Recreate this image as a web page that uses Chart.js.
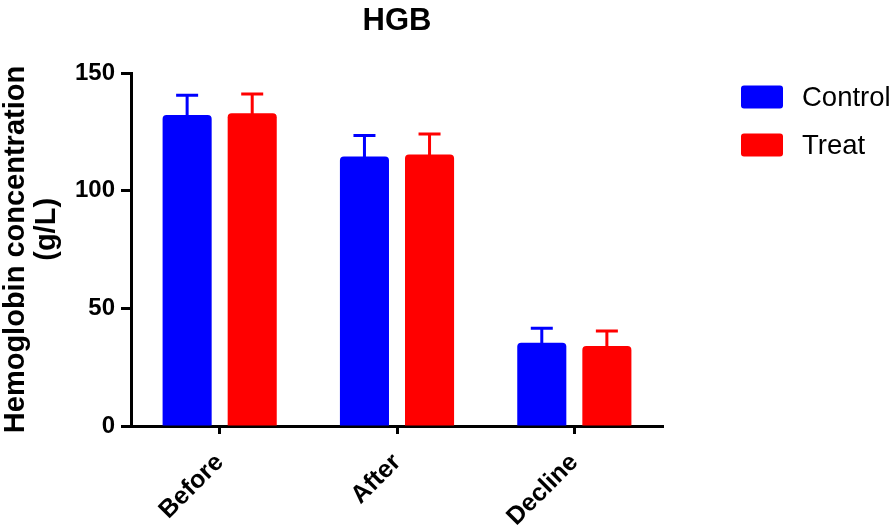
<!DOCTYPE html>
<html>
<head>
<meta charset="utf-8">
<script src="https://cdn.jsdelivr.net/npm/chart.js@4/dist/chart.umd.min.js"></script>
<style>
  html, body { margin: 0; padding: 0; background: #fff; }
  #wrap { width: 894px; height: 526px; }
</style>
</head>
<body>
<div id="wrap"><canvas id="c" width="894" height="526"></canvas></div>
<script>
const categories = ['Before', 'After', 'Decline'];
const controlMeans = [132.2, 114.5, 35.4];
const controlErr = [8.3, 8.9, 6.1];
const treatMeans = [132.9, 115.4, 34.0];
const treatErr = [8.2, 8.7, 6.4];
const yTicks = [0, 50, 100, 150];

const FONT = 'Arial, "Liberation Sans", Helvetica, sans-serif';

const errorBarPlugin = {
  id: 'errorBars',
  afterDatasetsDraw(chart) {
    const ctx = chart.ctx;
    const yScale = chart.scales.y;
    chart.data.datasets.forEach((ds, di) => {
      const meta = chart.getDatasetMeta(di);
      meta.data.forEach((bar, i) => {
        const top = yScale.getPixelForValue(ds.data[i] + ds.errors[i]);
        const base = yScale.getPixelForValue(ds.data[i]);
        ctx.save();
        ctx.strokeStyle = ds.backgroundColor;
        ctx.lineWidth = 3;
        ctx.beginPath();
        ctx.moveTo(bar.x, base + 1);
        ctx.lineTo(bar.x, top);
        ctx.moveTo(bar.x - 11, top);
        ctx.lineTo(bar.x + 11, top);
        ctx.stroke();
        ctx.restore();
      });
    });
  }
};

const legendPlugin = {
  id: 'sideLegend',
  afterDraw(chart) {
    const ctx = chart.ctx;
    chart.data.datasets.forEach((ds, i) => {
      const cy = 97 + i * 48;
      ctx.save();
      ctx.fillStyle = ds.backgroundColor;
      ctx.beginPath();
      ctx.roundRect(741, cy - 11.5, 42, 23, 3);
      ctx.fill();
      ctx.fillStyle = '#000';
      ctx.font = '27.5px ' + FONT;
      ctx.textBaseline = 'middle';
      ctx.textAlign = 'left';
      ctx.fillText(ds.label, 802, cy + 1);
      ctx.restore();
    });
  }
};

new Chart(document.getElementById('c'), {
  type: 'bar',
  data: {
    labels: categories,
    datasets: [
      { label: 'Control', data: controlMeans, errors: controlErr,
        backgroundColor: '#0000ff', borderWidth: 0,
        borderRadius: { topLeft: 4, topRight: 4 }, borderSkipped: 'start' },
      { label: 'Treat', data: treatMeans, errors: treatErr,
        backgroundColor: '#ff0000', borderWidth: 0,
        borderRadius: { topLeft: 4, topRight: 4 }, borderSkipped: 'start' }
    ]
  },
  options: {
    responsive: false,
    animation: false,
    devicePixelRatio: 1,
    categoryPercentage: 0.734,
    barPercentage: 0.754,
    layout: { padding: { left: 0, right: 231, top: 0, bottom: 0 } },
    plugins: {
      legend: { display: false },
      tooltip: { enabled: false },
      title: {
        display: true,
        text: 'HGB',
        fullSize: false,
        color: '#000',
        font: { family: FONT, size: 31, weight: 'bold', lineHeight: 1.2 },
        padding: { top: 3, bottom: 32.8 }
      }
    },
    scales: {
      x: {
        afterFit(scale) { scale.height = 100; },
        grid: { display: true, drawOnChartArea: false, offset: false,
                tickLength: 8, tickWidth: 3, tickColor: '#000' },
        border: { display: true, color: '#000', width: 3 },
        ticks: { color: '#000', minRotation: 45, maxRotation: 45, padding: 14,
                 font: { family: FONT, size: 25, weight: 'bold' } }
      },
      y: {
        min: 0, max: 150,
        afterFit(scale) { scale.width = 131; },
        afterBuildTicks(scale) { scale.ticks = yTicks.map(v => ({ value: v })); },
        grid: { display: true, drawOnChartArea: false,
                tickLength: 10, tickWidth: 3, tickColor: '#000' },
        border: { display: true, color: '#000', width: 3 },
        ticks: { color: '#000', padding: 6,
                 font: { family: FONT, size: 24, weight: 'bold' } },
        title: {
          display: true,
          text: ['Hemoglobin concentration', '\u00A0\u00A0\u00A0\u00A0\u00A0(g/L)'],
          color: '#000',
          font: { family: FONT, size: 29, weight: 'bold', lineHeight: 1.05 },
          padding: { top: 1, bottom: 0 }
        }
      }
    }
  },
  plugins: [errorBarPlugin, legendPlugin]
});
</script>
</body>
</html>
